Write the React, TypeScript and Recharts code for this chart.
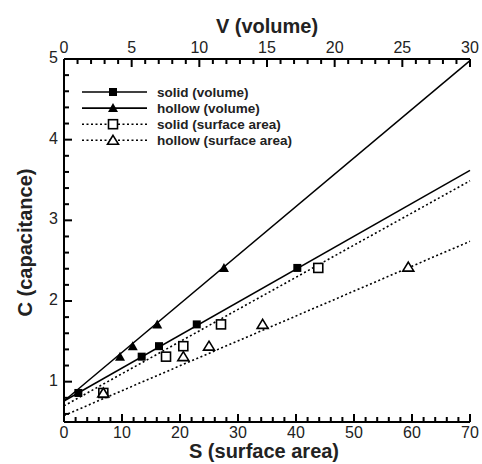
import { ComposedChart, Line, XAxis, YAxis, Legend } from "recharts";

const FONT = "'Liberation Sans', Arial, Helvetica, sans-serif";

// tick positions (minor + major) and the labelled ones
const sTicks = [0, 2, 4, 6, 8, 10, 12, 14, 16, 18, 20, 22, 24, 26, 28, 30, 32, 34, 36, 38, 40, 42, 44, 46, 48, 50, 52, 54, 56, 58, 60, 62, 64, 66, 68, 70];
const sLabels = [0, 10, 20, 30, 40, 50, 60, 70];
const vTicks = [0, 1, 2, 3, 4, 5, 6, 7, 8, 9, 10, 11, 12, 13, 14, 15, 16, 17, 18, 19, 20, 21, 22, 23, 24, 25, 26, 27, 28, 29, 30];
const vLabels = [0, 5, 10, 15, 20, 25, 30];
const cTicks = [0.6, 0.8, 1, 1.2, 1.4, 1.6, 1.8, 2, 2.2, 2.4, 2.6, 2.8, 3, 3.2, 3.4, 3.6, 3.8, 4, 4.2, 4.4, 4.6, 4.8, 5];
const cLabels = [1, 2, 3, 4, 5];

// measured points
const solidVolume = [
  { x: 1.06, c: 0.86 },
  { x: 5.74, c: 1.31 },
  { x: 7.02, c: 1.44 },
  { x: 9.81, c: 1.71 },
  { x: 17.24, c: 2.41 },
];
const hollowVolume = [
  { x: 4.14, c: 1.31 },
  { x: 5.08, c: 1.44 },
  { x: 6.89, c: 1.71 },
  { x: 11.82, c: 2.41 },
];
const solidSurface = [
  { x: 6.78, c: 0.86 },
  { x: 17.59, c: 1.31 },
  { x: 20.57, c: 1.44 },
  { x: 27.07, c: 1.71 },
  { x: 43.84, c: 2.41 },
];
const hollowSurface = [
  { x: 6.78, c: 0.86 },
  { x: 20.57, c: 1.31 },
  { x: 25.0, c: 1.44 },
  { x: 34.25, c: 1.71 },
  { x: 59.36, c: 2.42 },
];

// linear fits (end points)
const solidVolumeFit = [
  { x: 0, c: 0.76 },
  { x: 30, c: 3.62 },
];
const hollowVolumeFit = [
  { x: 0, c: 0.76 },
  { x: 30, c: 4.98 },
];
const solidSurfaceFit = [
  { x: 0, c: 0.7 },
  { x: 70, c: 3.49 },
];
const hollowSurfaceFit = [
  { x: 0, c: 0.58 },
  { x: 70, c: 2.74 },
];

// inward tick marks, placed on the axes through the chart scales
const bottomMarks = sTicks.map((x) => ({ x, c: 0.5, major: sLabels.includes(x) }));
const topMarks = vTicks.map((x) => ({ x, c: 5, major: vLabels.includes(x) }));
const leftMarks = cTicks.map((c) => ({ x: 0, c, major: cLabels.includes(c) }));

type Kind = "filledSquare" | "filledTriangle" | "openSquare" | "openTriangle";

const legendItems: { name: string; kind: Kind; dotted: boolean }[] = [
  { name: "solid (volume)", kind: "filledSquare", dotted: false },
  { name: "hollow (volume)", kind: "filledTriangle", dotted: false },
  { name: "solid (surface area)", kind: "openSquare", dotted: true },
  { name: "hollow (surface area)", kind: "openTriangle", dotted: true },
];

const DOTS = "2 2.5";

function Marker({ kind, cx, cy }: { kind: Kind; cx: number; cy: number }) {
  if (kind === "filledSquare") {
    return <rect x={cx - 4} y={cy - 4} width={8} height={8} fill="#000" />;
  }
  if (kind === "openSquare") {
    return <rect x={cx - 4.5} y={cy - 4.5} width={9} height={9} fill="#fff" stroke="#000" strokeWidth={1.6} />;
  }
  if (kind === "filledTriangle") {
    return <polygon points={`${cx},${cy - 5} ${cx + 5},${cy + 4} ${cx - 5},${cy + 4}`} fill="#000" />;
  }
  return (
    <polygon
      points={`${cx},${cy - 5} ${cx + 5.5},${cy + 4} ${cx - 5.5},${cy + 4}`}
      fill="#fff"
      stroke="#000"
      strokeWidth={1.6}
    />
  );
}

const dotOf = (kind: Kind) => (p: any) => (
  <g key={`${kind}-${p.index}`}>
    <Marker kind={kind} cx={p.cx} cy={p.cy} />
  </g>
);

// tick mark drawn as a filled rect (rects are what showed up in the test run)
const markOf = (side: "top" | "bottom" | "left") => (p: any) => {
  const len = p.payload.major ? 8 : 5;
  const w = 2;
  const cx = Number(p.cx);
  const cy = Number(p.cy);
  if (side === "bottom") {
    return <rect key={`b-${p.index}`} x={cx - w / 2} y={cy - len} width={w} height={len} fill="#000" />;
  }
  if (side === "top") {
    return <rect key={`t-${p.index}`} x={cx - w / 2} y={cy} width={w} height={len} fill="#000" />;
  }
  return <rect key={`l-${p.index}`} x={cx} y={cy - w / 2} width={len} height={w} fill="#000" />;
};

// numbers only on the labelled ticks
function makeTick(side: "top" | "bottom" | "left", labels: number[]) {
  return (props: any) => {
    const x = Number(props.x);
    const y = Number(props.y);
    const v = props.payload.value;
    if (!labels.includes(v)) return <g />;
    const textStyle = { fontFamily: FONT, fontSize: 16, fill: "#222" };
    if (side === "bottom") {
      return (
        <text x={x} y={y + 16} textAnchor="middle" style={textStyle}>
          {v}
        </text>
      );
    }
    if (side === "top") {
      return (
        <text x={x} y={y - 6} textAnchor="middle" style={textStyle}>
          {v}
        </text>
      );
    }
    return (
      <text x={x - 6} y={y + 4} textAnchor="end" style={textStyle}>
        {v}
      </text>
    );
  };
}

const titleStyle = { fontFamily: FONT, fontSize: 20, fontWeight: 700, fill: "#222" };

const bottomTitle = (props: any) => {
  const vb = props.viewBox;
  return (
    <text x={vb.x + vb.width / 2 - 3} y={vb.y + vb.height - 6} textAnchor="middle" style={titleStyle}>
      S (surface area)
    </text>
  );
};

const topTitle = (props: any) => {
  const vb = props.viewBox;
  return (
    <text x={vb.x + vb.width / 2} y={vb.y + 33} textAnchor="middle" style={titleStyle}>
      V (volume)
    </text>
  );
};

const leftTitle = (props: any) => {
  const vb = props.viewBox;
  const cx = vb.x + 32;
  const cy = vb.y + vb.height / 2 + 2;
  return (
    <text x={cx} y={cy} transform={`rotate(-90 ${cx} ${cy})`} textAnchor="middle" style={titleStyle}>
      C (capacitance)
    </text>
  );
};

const renderLegend = () => (
  <svg width={250} height={66}>
    {legendItems.map((item, i) => {
      const y = 8 + i * 16.1;
      return (
        <g key={item.name}>
          <line
            x1={4}
            x2={69}
            y1={y}
            y2={y}
            stroke="#000"
            strokeWidth={item.dotted ? 1.4 : 1.6}
            strokeDasharray={item.dotted ? DOTS : undefined}
          />
          <Marker kind={item.kind} cx={35} cy={y} />
          <text x={79} y={y + 5} style={{ fontFamily: FONT, fontSize: 13.5, fontWeight: 700, fill: "#222" }}>
            {item.name}
          </text>
        </g>
      );
    })}
  </svg>
);

const axisLine = { stroke: "#000", strokeWidth: 2 };

export default function App() {
  return (
    <div style={{ position: "absolute", left: 0, top: 0, width: 482, height: 464, background: "#fff" }}>
      <ComposedChart width={482} height={464} margin={{ top: 0, right: 12, bottom: 0, left: 0 }}>
        <XAxis
          xAxisId="s"
          dataKey="x"
          type="number"
          orientation="bottom"
          domain={[0, 70]}
          ticks={sTicks}
          interval={0}
          height={42}
          tickSize={0}
          tickMargin={0}
          tickLine={false}
          axisLine={axisLine}
          tick={makeTick("bottom", sLabels)}
          label={{ content: bottomTitle }}
        />
        <XAxis
          xAxisId="v"
          dataKey="x"
          type="number"
          orientation="top"
          domain={[0, 30]}
          ticks={vTicks}
          interval={0}
          height={59}
          tickSize={0}
          tickMargin={0}
          tickLine={false}
          axisLine={axisLine}
          tick={makeTick("top", vLabels)}
          label={{ content: topTitle }}
        />
        <YAxis
          type="number"
          domain={[0.5, 5]}
          ticks={cTicks}
          interval={0}
          width={64}
          tickSize={0}
          tickMargin={0}
          tickLine={false}
          axisLine={axisLine}
          tick={makeTick("left", cLabels)}
          label={{ content: leftTitle }}
        />

        <Line data={bottomMarks} xAxisId="s" dataKey="c" stroke="none" dot={markOf("bottom")} activeDot={false} isAnimationActive={false} />
        <Line data={topMarks} xAxisId="v" dataKey="c" stroke="none" dot={markOf("top")} activeDot={false} isAnimationActive={false} />
        <Line data={leftMarks} xAxisId="s" dataKey="c" stroke="none" dot={markOf("left")} activeDot={false} isAnimationActive={false} />

        <Line data={solidVolumeFit} xAxisId="v" dataKey="c" type="linear" stroke="#000" strokeWidth={1.5} dot={false} activeDot={false} isAnimationActive={false} />
        <Line data={hollowVolumeFit} xAxisId="v" dataKey="c" type="linear" stroke="#000" strokeWidth={1.5} dot={false} activeDot={false} isAnimationActive={false} />
        <Line data={solidSurfaceFit} xAxisId="s" dataKey="c" type="linear" stroke="#000" strokeWidth={1.6} strokeDasharray={DOTS} dot={false} activeDot={false} isAnimationActive={false} />
        <Line data={hollowSurfaceFit} xAxisId="s" dataKey="c" type="linear" stroke="#000" strokeWidth={1.6} strokeDasharray={DOTS} dot={false} activeDot={false} isAnimationActive={false} />

        <Line data={solidSurface} xAxisId="s" dataKey="c" stroke="none" dot={dotOf("openSquare")} activeDot={false} isAnimationActive={false} />
        <Line data={hollowSurface} xAxisId="s" dataKey="c" stroke="none" dot={dotOf("openTriangle")} activeDot={false} isAnimationActive={false} />
        <Line data={solidVolume} xAxisId="v" dataKey="c" stroke="none" dot={dotOf("filledSquare")} activeDot={false} isAnimationActive={false} />
        <Line data={hollowVolume} xAxisId="v" dataKey="c" stroke="none" dot={dotOf("filledTriangle")} activeDot={false} isAnimationActive={false} />

        <Legend
          content={renderLegend}
          layout="horizontal"
          verticalAlign="middle"
          align="center"
          wrapperStyle={{ position: "absolute", top: 84, left: 78, width: 250, height: 66 }}
        />
      </ComposedChart>
    </div>
  );
}
